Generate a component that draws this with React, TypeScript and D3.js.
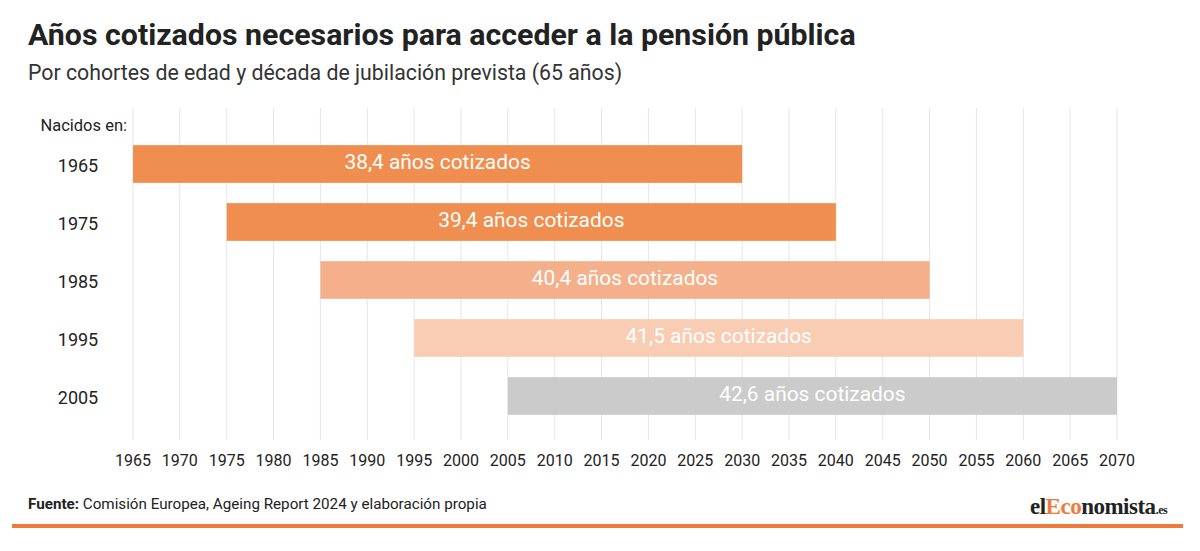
import React from "react";
import * as d3 from "d3";

const cohorts = ["1965", "1975", "1985", "1995", "2005"];
const startYears = [1965, 1975, 1985, 1995, 2005];
const endYears = [2030, 2040, 2050, 2060, 2070];
const yearsContributed = ["38,4", "39,4", "40,4", "41,5", "42,6"];
const barColors = ["#ee8a48", "#ee8a48", "#f4ad86", "#f8cbb2", "#c9c9c9"];
const tickYears = d3.range(1965, 2071, 5);

const W = 1200;
const H = 551;

export default function App() {
  const x = d3.scaleLinear().domain([1965, 2070]).range([133, 1117]);
  const y = d3.scaleBand().domain(cohorts).range([135, 425]).paddingInner(0.35).paddingOuter(0.175);
  const font = "Roboto, 'Noto Sans', sans-serif";
  return (
    <svg width={W} height={H} style={{ position: "absolute", left: 0, top: 0, background: "#fff" }} fontFamily={font}>
      <rect x={0} y={0} width={W} height={H} fill="#fff" />
      <text x={28} y={45} fontSize={30.3} fontWeight={700} fill="#222">Años cotizados necesarios para acceder a la pensión pública</text>
      <text x={28} y={80} fontSize={21.3} fill="#333">Por cohortes de edad y década de jubilación prevista (65 años)</text>
      {tickYears.map((t) => (
        <line key={t} x1={x(t)} x2={x(t)} y1={108} y2={440} stroke="#e6e6e6" strokeWidth={1} />
      ))}
      <text x={127} y={131} fontSize={16.5} textAnchor="end" fill="#222">Nacidos en:</text>
      {cohorts.map((c, i) => {
        const y0 = y(c)!;
        const bw = y.bandwidth();
        const x0 = x(startYears[i]);
        const x1 = x(endYears[i]);
        return (
          <g key={c}>
            <rect x={x0} y={y0} width={x1 - x0} height={bw} fill={barColors[i]} fillOpacity={0.97} />
            <text x={78} y={y0 + bw / 2 + 2} dy="0.35em" fontSize={18} textAnchor="middle" fill="#222">{c}</text>
            <text x={(x0 + x1) / 2} y={y0 + bw / 2 - 2} dy="0.35em" fontSize={20.9} textAnchor="middle" fill="#fff">{yearsContributed[i]} años cotizados</text>
          </g>
        );
      })}
      {tickYears.map((t) => (
        <text key={"l" + t} x={x(t)} y={466} fontSize={16} textAnchor="middle" fill="#222">{t}</text>
      ))}
      <text x={28} y={509} fontSize={15.2} fill="#222">
        <tspan fontWeight={700}>Fuente:</tspan> Comisión Europea, Ageing Report 2024 y elaboración propia
      </text>
      <text x={1030} y={514} fontSize={23} fontWeight={700} fontFamily="'Liberation Serif', 'DejaVu Serif', serif" fill="#222" letterSpacing={-0.5}>
        el<tspan fill="#ef7a3a">Eco</tspan>nomista<tspan fontSize={12}>.es</tspan>
      </text>
      <rect x={12} y={524} width={1171} height={4} fill="#ef7a3a" />
    </svg>
  );
}
